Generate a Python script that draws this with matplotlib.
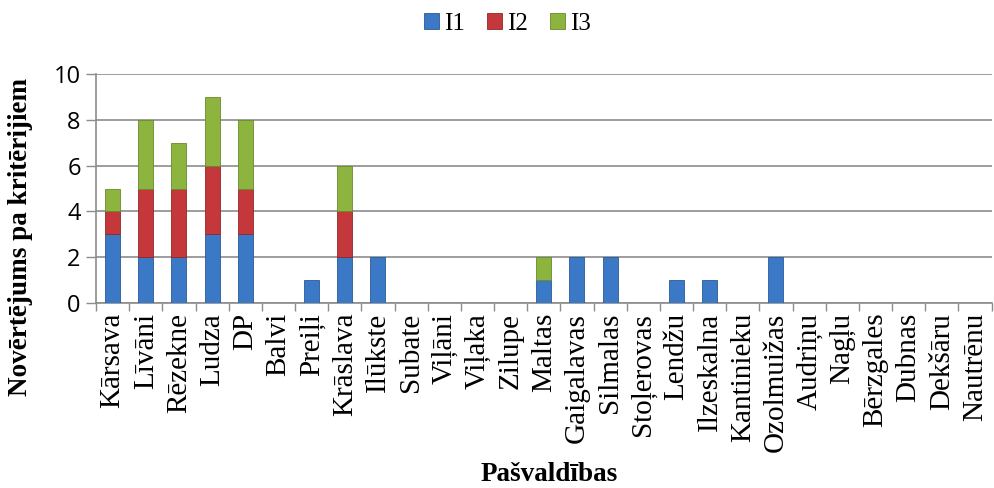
import numpy as np
import matplotlib.pyplot as plt

# ==========================
# Data
# ==========================

municipalities = ["Kārsava", "Līvāni", "Rēzekne", "Ludza", "DP", "Balvi", "Preiļi",
                  "Krāslava", "Ilūkste", "Subate", "Viļāni", "Viļaka", "Zilupe",
                  "Maltas", "Gaigalavas", "Silmalas", "Stoļerovas", "Lendžu",
                  "Ilzeskalna", "Kantinieku", "Ozolmuižas", "Audriņu", "Nagļu",
                  "Bērzgales", "Dubnas", "Dekšāru", "Nautrēnu"]

i1 = [3, 2, 2, 3, 3, 0, 1, 2, 2, 0, 0, 0, 0, 1, 2, 2, 0, 1, 1, 0, 2, 0, 0, 0, 0, 0, 0]
i2 = [1, 3, 3, 3, 2, 0, 0, 2, 0, 0, 0, 0, 0, 0, 0, 0, 0, 0, 0, 0, 0, 0, 0, 0, 0, 0, 0]
i3 = [1, 3, 2, 3, 3, 0, 0, 2, 0, 0, 0, 0, 0, 1, 0, 0, 0, 0, 0, 0, 0, 0, 0, 0, 0, 0, 0]

series_names = ["I1", "I2", "I3"]
colors = ["#3B78C6", "#C4373A", "#8DB43E"]
edges = ["#2A5A98", "#932628", "#6A8A2A"]

# ==========================
# Plot
# ==========================

fig = plt.figure(figsize=(9.95, 4.88), dpi=100)
ax = fig.add_axes([0.0965, 0.379, 0.9, 0.469])

x = np.arange(len(municipalities))
bottom = np.zeros(len(x))
for vals, name, c, ec in zip([i1, i2, i3], series_names, colors, edges):
    vals = np.array(vals, dtype=float)
    nz = vals > 0  # skip empty segments so no stray edge lines appear
    ax.bar(x[nz], vals[nz], 0.45, bottom=bottom[nz], color=c, edgecolor=ec,
           linewidth=0.6, label=name, zorder=3)
    bottom += vals

ax.set_xlim(-0.5, len(x) - 0.5)
ax.set_ylim(0, 10)
ax.set_yticks([0, 2, 4, 6, 8, 10])
ax.yaxis.grid(True, color="#8c8c8c", linewidth=1.2, zorder=0)
ax.tick_params(axis="y", length=7, width=1, color="#8c8c8c", labelsize=17, pad=4)
for lbl in ax.get_yticklabels():
    lbl.set_fontfamily("Open Sans")

ax.set_xticks(np.arange(len(x) + 1) - 0.5, minor=True)
ax.set_xticks(x)
ax.set_xticklabels(municipalities, rotation=90, fontsize=21, family="Liberation Serif")
ax.tick_params(axis="x", which="major", length=0, pad=7)
ax.tick_params(axis="x", which="minor", length=6, width=1, color="#8c8c8c")

for side in ["top", "right"]:
    ax.spines[side].set_visible(False)
ax.spines["left"].set_color("#8c8c8c")
ax.spines["bottom"].set_color("#8c8c8c")
ax.spines["left"].set_linewidth(1.2)
ax.spines["bottom"].set_linewidth(1.2)

fig.text(0.021, 0.514, "Novērtējums pa kritērijiem", rotation=90, ha="center",
         va="center", fontsize=19.5, fontweight="bold", family="Liberation Serif")
fig.text(0.552, 0.027, "Pašvaldības", ha="center", va="center", fontsize=19.5,
         fontweight="bold", family="Liberation Serif")

fig.legend(loc="upper center", bbox_to_anchor=(0.51, 1.02), ncol=3, frameon=False,
           prop={"family": "Liberation Serif", "size": 18}, handlelength=0.6,
           handleheight=0.6, handletextpad=0.2, columnspacing=0.9)

plt.savefig("out.png", dpi=100)
plt.close()
